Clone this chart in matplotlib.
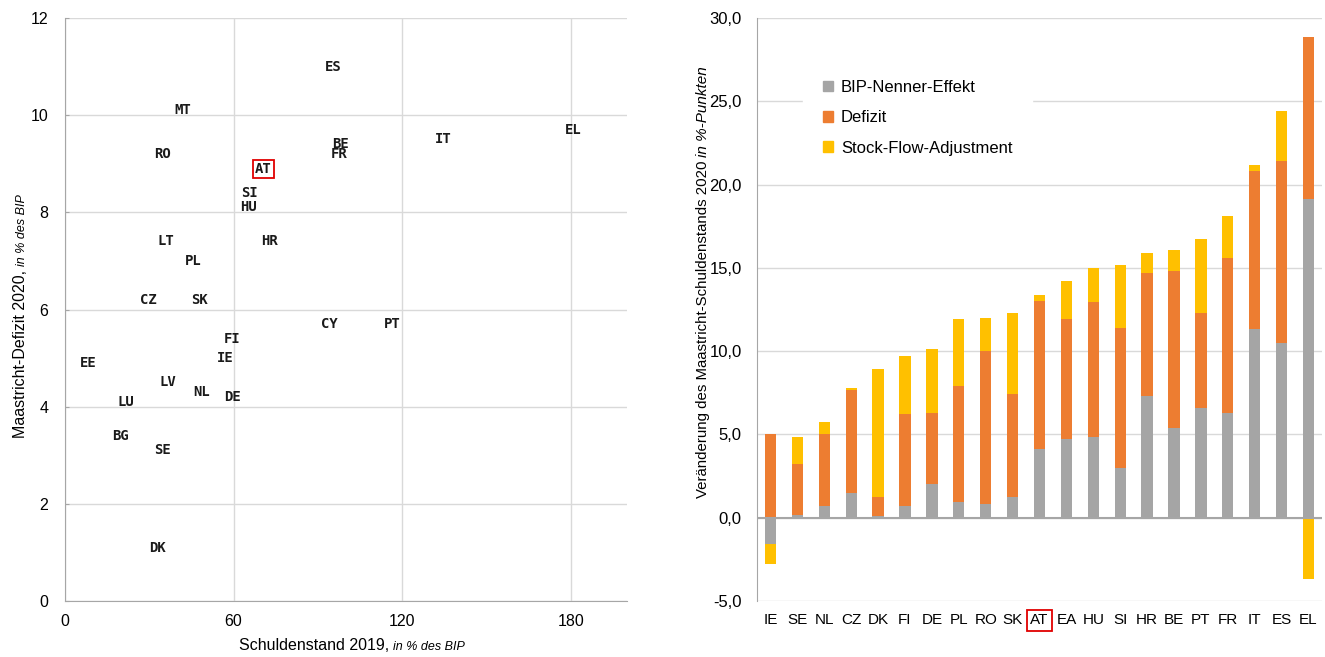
import matplotlib
matplotlib.use("Agg")
import matplotlib.pyplot as plt
import matplotlib.patches as mpatches
import matplotlib.ticker as mticker
import numpy as np

plt.rcParams['font.family'] = ['Liberation Sans', 'DejaVu Sans']

# ── Daten links: Schuldenstand 2019 vs Defizit 2020 ────────────────────────────
scatter_countries = ["ES", "MT", "RO", "AT", "BE", "FR", "IT", "EL", "SI", "HU",
                     "LT", "HR", "PL", "CZ", "SK", "CY", "PT", "FI", "IE", "EE",
                     "LV", "NL", "DE", "LU", "BG", "SE", "DK"]
debt_2019 = [95.5, 42.0, 34.8, 70.5, 98.1, 97.6, 134.6, 180.7, 65.6, 65.3,
             35.9, 72.8, 45.6, 29.8, 47.9, 94.0, 116.6, 59.3, 57.2, 8.2,
             36.5, 48.5, 59.5, 21.8, 19.7, 34.8, 33.0]
deficit_2020 = [11.0, 10.1, 9.2, 8.9, 9.4, 9.2, 9.5, 9.7, 8.4, 8.1,
                7.4, 7.4, 7.0, 6.2, 6.2, 5.7, 5.7, 5.4, 5.0, 4.9,
                4.5, 4.3, 4.2, 4.1, 3.4, 3.1, 1.1]

# ── Daten rechts: Zerlegung der Schuldenstandsveränderung ──────────────────────
bar_countries = ["IE", "SE", "NL", "CZ", "DK", "FI", "DE", "PL", "RO", "SK", "AT",
                 "EA", "HU", "SI", "HR", "BE", "PT", "FR", "IT", "ES", "EL"]
bip_effekt = [-1.6, 0.15, 0.7, 1.5, 0.1, 0.7, 2.05, 0.95, 0.8, 1.25, 4.15,
              4.7, 4.85, 3.0, 7.3, 5.4, 6.6, 6.3, 11.3, 10.5, 19.15]
defizit = [5.0, 3.1, 4.3, 6.15, 1.15, 5.5, 4.25, 6.95, 9.2, 6.15, 8.85,
           7.2, 8.1, 8.4, 7.4, 9.4, 5.7, 9.3, 9.5, 10.9, 9.7]
sfa = [-1.2, 1.6, 0.75, 0.15, 7.65, 3.5, 3.8, 4.0, 2.0, 4.9, 0.4,
       2.3, 2.05, 3.8, 1.2, 1.3, 4.45, 2.5, 0.4, 3.0, -3.7]

C_GRAY = "#a5a5a5"
C_ORANGE = "#ed7d31"
C_YELLOW = "#ffc000"
C_GRID = "#d9d9d9"
C_AXIS = "#a6a6a6"

W, H = 1325, 657
fig = plt.figure(figsize=(W / 100, H / 100), dpi=100)
fig.patch.set_facecolor("white")

def px_box(l, t, r, b):
    return [l / W, 1 - b / H, (r - l) / W, (b - t) / H]

# ── Links: Streudiagramm ───────────────────────────────────────────────────────
ax1 = fig.add_axes(px_box(65, 18, 627, 601))
ax1.set_xlim(0, 200)
ax1.set_ylim(0, 12)
ax1.set_xticks([0, 60, 120, 180])
ax1.set_yticks(range(0, 13, 2))
ax1.grid(True, color=C_GRID, linewidth=1.0)
ax1.set_axisbelow(True)
for s in ["top", "right"]:
    ax1.spines[s].set_visible(False)
for s in ["left", "bottom"]:
    ax1.spines[s].set_color(C_AXIS)
ax1.tick_params(axis="y", length=3, direction="in", color=C_AXIS, labelsize=11.5, pad=12)
ax1.tick_params(axis="x", length=0, labelsize=11.5, pad=9)

for c, x, y in zip(scatter_countries, debt_2019, deficit_2020):
    t = ax1.text(x, y, c, ha="center", va="center", fontsize=10,
                 family="DejaVu Sans Mono", fontweight="bold", color="#1a1a1a")
    if c == "AT":
        t.set_bbox(dict(facecolor="none", edgecolor="#e00000", linewidth=1.3, pad=1.5))

# ── Rechts: gestapelte Balken ──────────────────────────────────────────────────
ax2 = fig.add_axes(px_box(757, 18, 1322, 601))
xpos = np.arange(len(bar_countries))
comps = [(bip_effekt, C_GRAY, "BIP-Nenner-Effekt"),
         (defizit, C_ORANGE, "Defizit"),
         (sfa, C_YELLOW, "Stock-Flow-Adjustment")]
pos_base = np.zeros(len(xpos))
neg_base = np.zeros(len(xpos))
for vals, col, lab in comps:
    v = np.array(vals, dtype=float)
    base = np.where(v >= 0, pos_base, neg_base)
    ax2.bar(xpos, v, 0.42, bottom=base, color=col, label=lab, zorder=2)
    pos_base = pos_base + np.where(v >= 0, v, 0)
    neg_base = neg_base + np.where(v < 0, v, 0)

ax2.set_xlim(-0.5, len(xpos) - 0.5)
ax2.set_ylim(-5, 30)
ax2.set_yticks(range(-5, 31, 5))
ax2.yaxis.set_major_formatter(mticker.FuncFormatter(lambda v, p: f"{v:.1f}".replace(".", ",")))
ax2.set_xticks(xpos)
ax2.set_xticklabels(bar_countries)
ax2.grid(True, axis="y", color=C_GRID, linewidth=1.0, zorder=0)
ax2.set_axisbelow(True)
ax2.axhline(0, color=C_AXIS, linewidth=1.5, zorder=3)
for s in ["top", "right", "bottom"]:
    ax2.spines[s].set_visible(False)
ax2.spines["left"].set_color(C_AXIS)
ax2.tick_params(axis="y", length=0, labelsize=12, pad=11)
ax2.tick_params(axis="x", length=0, labelsize=11, pad=9)
for tl in ax2.get_xticklabels():
    if tl.get_text() == "AT":
        tl.set_bbox(dict(facecolor="none", edgecolor="#e00000", linewidth=1.3, pad=2.5))

handles = [mpatches.Patch(color=col, label=lab) for _, col, lab in comps]
leg = ax2.legend(handles=handles, loc="upper left", bbox_to_anchor=(0.082, 0.928),
                 fontsize=12, frameon=True, fancybox=False, framealpha=1.0,
                 edgecolor="white", handlelength=0.6, handleheight=0.6,
                 handletextpad=0.45, labelspacing=0.92, borderpad=1.2,
                 borderaxespad=0.0)
leg.set_zorder(4)

# ── Achsentitel mit kursivem Zusatz ───────────────────────────────────────────
renderer = fig.canvas.get_renderer()

def text_len(s, **kw):
    t = fig.text(0, 0, s, **kw)
    w = t.get_window_extent(renderer).width
    t.remove()
    return w

def two_part_x(main, ital, cx, base_y, fs1=11.5, fs2=9):
    w1 = text_len(main, fontsize=fs1)
    w2 = text_len(ital, fontsize=fs2, style="italic")
    x0 = cx - (w1 + w2) / 2
    fig.text(x0 / W, 1 - base_y / H, main, fontsize=fs1, va="baseline", ha="left")
    fig.text((x0 + w1) / W, 1 - base_y / H, ital, fontsize=fs2, style="italic",
             va="baseline", ha="left")

def two_part_y(main, ital, cy, base_x, fs1=11.5, fs2=9):
    w1 = text_len(main, fontsize=fs1)
    w2 = text_len(ital, fontsize=fs2, style="italic")
    y0 = cy + (w1 + w2) / 2
    kw = dict(rotation=90, rotation_mode="anchor", ha="left", va="baseline")
    fig.text(base_x / W, 1 - y0 / H, main, fontsize=fs1, **kw)
    fig.text(base_x / W, 1 - (y0 - w1) / H, ital, fontsize=fs2, style="italic", **kw)

two_part_x("Schuldenstand 2019, ", "in % des BIP", 352, 650)
two_part_y("Maastricht-Defizit 2020, ", "in % des BIP", 316, 25)
two_part_y("Veränderung des Maastricht-Schuldenstands 2020 ", "in %-Punkten", 282, 707,
           fs1=10.8, fs2=11)

fig.savefig("out.png", dpi=100, facecolor="white")
